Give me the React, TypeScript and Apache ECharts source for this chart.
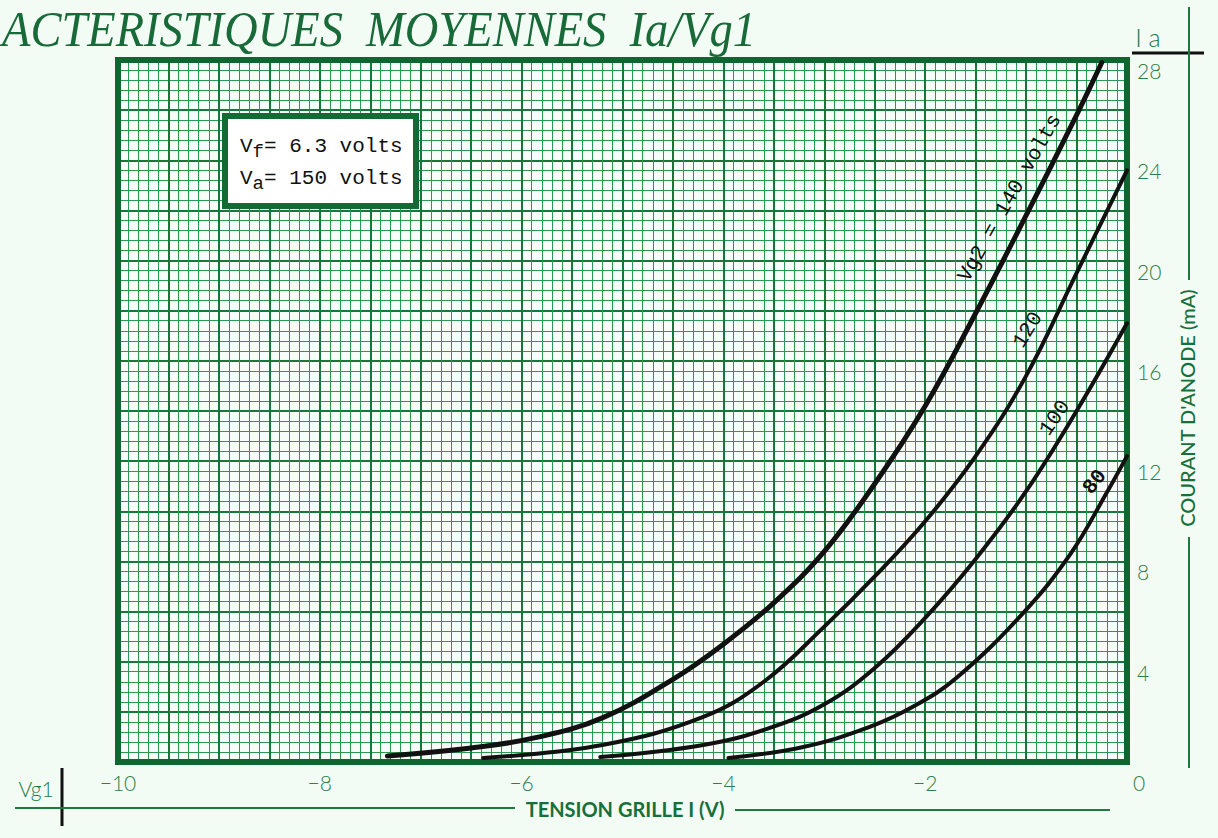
import React, { useEffect, useRef } from 'react';
import * as echarts from 'echarts';

// Tick labels
const X_TICK_VALUES = [-10, -8, -6, -4, -2, 0];
const X_TICK_LABELS = ['−10', '−8', '−6', '−4', '−2', '0'];
const Y_TICK_VALUES = [4, 8, 12, 16, 20, 24, 28];
const Y_TICK_LABELS = ['4', '8', '12', '16', '20', '24', '28'];

// Curves: Vg1 (V) and Ia (mA) for each Vg2
const VG1_140 = [-7.33, -6.5, -5.85, -5.2, -4.5, -4.0, -3.5, -3.0, -2.5, -2.0, -1.5, -1.0, -0.5, -0.25];
const IA_140 = [0.24, 0.56, 0.98, 1.76, 3.3, 4.7, 6.35, 8.4, 11.1, 14.2, 17.9, 21.8, 25.8, 27.9];

const VG1_120 = [-6.38, -5.2, -4.2, -3.6, -3.0, -2.5, -2.0, -1.5, -1.0, -0.5, 0];
const IA_120 = [0.16, 0.68, 1.8, 3.2, 5.4, 7.4, 9.6, 12.2, 15.4, 19.5, 23.6];

const VG1_100 = [-5.22, -4.2, -3.54, -3.0, -2.5, -2.0, -1.5, -1.0, -0.5, 0];
const IA_100 = [0.2, 0.68, 1.36, 2.3, 3.75, 5.75, 8.1, 10.8, 14.0, 17.5];

const VG1_80 = [-3.95, -3.21, -2.55, -2.1, -1.68, -1.03, -0.56, -0.2, 0];
const IA_80 = [0.16, 0.6, 1.4, 2.25, 3.39, 5.94, 8.3, 10.75, 12.2];

const CURVE_LABELS = ['Vg2 = 140 volts', '120', '100', '80'];

const GREEN_TEXT = '#1d7a3f';
const GREEN_DARK = '#0f6630';

export default function App() {
  const ref = useRef<HTMLDivElement>(null);

  useEffect(() => {
    document.body.style.margin = '0';
    const chart = echarts.init(ref.current as HTMLDivElement, null, { renderer: 'svg' });

    const pairs = (xs: number[], ys: number[]) => xs.map((x, i) => [x, ys[i]]);
    const xFmt = (v: number) => {
      const i = X_TICK_VALUES.findIndex((t) => Math.abs(t - v) < 1e-6);
      if (i < 0) return '';
      return Math.abs(v) < 1e-6 ? `{z|${X_TICK_LABELS[i]}}` : X_TICK_LABELS[i];
    };
    const yFmt = (v: number) => {
      const i = Y_TICK_VALUES.findIndex((t) => Math.abs(t - v) < 1e-6);
      return i >= 0 ? Y_TICK_LABELS[i] : '';
    };

    const tickFont = { color: '#2a8048', fontSize: 21, fontFamily: 'Lato', fontWeight: 300 as any };
    const curveLabelStyle = (text: string, size: number, weight = 'normal') => ({
      text,
      fill: '#111',
      font: `${weight} ${size}px "Liberation Mono"`,
      textAlign: 'center',
      textVerticalAlign: 'middle',
      align: 'center',
      verticalAlign: 'middle',
    });
    const centered = { textAlign: 'center', align: 'center', textVerticalAlign: 'middle', verticalAlign: 'middle' };

    const option: any = {
      animation: false,
      backgroundColor: '#f3fbf5',
      grid: {
        left: 118,
        right: 91,
        top: 60,
        bottom: 76,
        show: true,
        backgroundColor: '#f7fdf8',
        borderWidth: 0,
      },
      xAxis: {
        type: 'value',
        min: -10,
        max: 0,
        interval: 0.5,
        axisLine: { show: false },
        axisTick: { show: false },
        splitLine: { show: true, lineStyle: { color: '#17763a', width: 2 } },
        minorTick: { show: false, splitNumber: 5 },
        minorSplitLine: { show: true, lineStyle: { color: '#2b9852', width: 1 } },
        axisLabel: {
          ...tickFont,
          formatter: xFmt,
          margin: 10,
          rich: { z: { ...tickFont, padding: [0, 0, 0, 24] } },
        },
      },
      yAxis: {
        type: 'value',
        min: 0,
        max: 28,
        interval: 2,
        position: 'right',
        axisLine: { show: false },
        axisTick: { show: false },
        splitLine: { show: true, lineStyle: { color: '#17763a', width: 2 } },
        minorTick: { show: false, splitNumber: 5 },
        minorSplitLine: { show: true, lineStyle: { color: '#2b9852', width: 1 } },
        axisLabel: { ...tickFont, formatter: yFmt, margin: 10, verticalAlign: 'top', align: 'left' },
      },
      series: [
        { data: pairs(VG1_140, IA_140), width: 5 },
        { data: pairs(VG1_120, IA_120), width: 4 },
        { data: pairs(VG1_100, IA_100), width: 4 },
        { data: pairs(VG1_80, IA_80), width: 4 },
      ].map((s, i) => ({
        type: 'line',
        name: CURVE_LABELS[i],
        data: s.data,
        smooth: 0.4,
        showSymbol: false,
        silent: true,
        z: 5,
        lineStyle: { color: '#111111', width: s.width, cap: 'round', join: 'round' },
      })),
      graphic: [
        // plot border
        {
          type: 'rect',
          z: 4,
          silent: true,
          shape: { x: 118, y: 60, width: 1009, height: 702 },
          style: { fill: 'none', stroke: GREEN_DARK, lineWidth: 6 },
        },
        // title
        {
          type: 'text',
          x: 2,
          y: 29,
          scaleX: 0.93,
          style: {
            text: 'ACTERISTIQUES  MOYENNES  Ia/Vg1',
            fill: '#186a38',
            font: 'italic 50px "Liberation Serif"',
            textAlign: 'left',
            align: 'left',
            textVerticalAlign: 'middle',
            verticalAlign: 'middle',
          },
        },
        // info box
        {
          type: 'rect',
          z: 6,
          shape: { x: 225, y: 116, width: 191, height: 90 },
          style: { fill: '#ffffff', stroke: '#126b33', lineWidth: 6 },
        },
        {
          type: 'text',
          z: 7,
          x: 240,
          y: 146,
          style: {
            text: '{n|V}{s|f}{n|= 6.3 volts}',
            align: 'left',
            textAlign: 'left',
            verticalAlign: 'middle',
            textVerticalAlign: 'middle',
            rich: {
              n: { fontSize: 21, fontFamily: 'Liberation Mono', fill: '#111', color: '#111', lineHeight: 26 },
              s: { fontSize: 19, fontFamily: 'Liberation Mono', fill: '#111', color: '#111', lineHeight: 26, padding: [12, 0, 0, 0] },
            },
          },
        },
        {
          type: 'text',
          z: 7,
          x: 240,
          y: 178,
          style: {
            text: '{n|V}{s|a}{n|= 150 volts}',
            align: 'left',
            textAlign: 'left',
            verticalAlign: 'middle',
            textVerticalAlign: 'middle',
            rich: {
              n: { fontSize: 21, fontFamily: 'Liberation Mono', fill: '#111', color: '#111', lineHeight: 26 },
              s: { fontSize: 19, fontFamily: 'Liberation Mono', fill: '#111', color: '#111', lineHeight: 26, padding: [12, 0, 0, 0] },
            },
          },
        },
        // curve labels
        { type: 'text', z: 7, x: 1010, y: 198, rotation: (60.5 * Math.PI) / 180, style: curveLabelStyle(CURVE_LABELS[0], 21) },
        { type: 'text', z: 7, x: 1028, y: 330, rotation: (58 * Math.PI) / 180, style: curveLabelStyle(CURVE_LABELS[1], 21) },
        { type: 'text', z: 7, x: 1055, y: 418, rotation: (55 * Math.PI) / 180, style: curveLabelStyle(CURVE_LABELS[2], 21) },
        { type: 'text', z: 7, x: 1095, y: 482, rotation: (52 * Math.PI) / 180, style: curveLabelStyle(CURVE_LABELS[3], 21, 'bold') },
        // right side: Ia and axis title
        { type: 'text', x: 1148, y: 37, style: { text: 'I a', fill: GREEN_TEXT, font: '300 25px Lato', ...centered } },
        { type: 'line', shape: { x1: 1132, y1: 53, x2: 1204, y2: 53 }, style: { stroke: '#111', lineWidth: 3 } },
        { type: 'line', shape: { x1: 1189, y1: 7, x2: 1189, y2: 280 }, style: { stroke: GREEN_TEXT, lineWidth: 2 } },
        { type: 'line', shape: { x1: 1189, y1: 537, x2: 1189, y2: 768 }, style: { stroke: GREEN_TEXT, lineWidth: 2 } },
        {
          type: 'text',
          x: 1187,
          y: 408,
          rotation: Math.PI / 2,
          style: { text: "COURANT D'ANODE (mA)", fill: '#15703a', font: '500 20px Lato', ...centered },
        },
        // bottom: Vg1 and axis title
        { type: 'text', x: 36, y: 788, style: { text: 'Vg1', fill: GREEN_TEXT, font: '300 21px Lato', ...centered } },
        { type: 'line', shape: { x1: 62, y1: 768, x2: 62, y2: 826 }, style: { stroke: '#111', lineWidth: 3 } },
        { type: 'line', shape: { x1: 15, y1: 808, x2: 515, y2: 808 }, style: { stroke: GREEN_TEXT, lineWidth: 2 } },
        { type: 'line', shape: { x1: 735, y1: 810, x2: 1110, y2: 810 }, style: { stroke: GREEN_TEXT, lineWidth: 2 } },
        { type: 'text', x: 625, y: 809, style: { text: 'TENSION GRILLE I (V)', fill: '#15703a', font: 'bold 20px Lato', ...centered } },
      ],
    };

    chart.setOption(option);
    return () => chart.dispose();
  }, []);

  return <div ref={ref} style={{ position: 'absolute', left: 0, top: 0, width: 1218, height: 838 }} />;
}
